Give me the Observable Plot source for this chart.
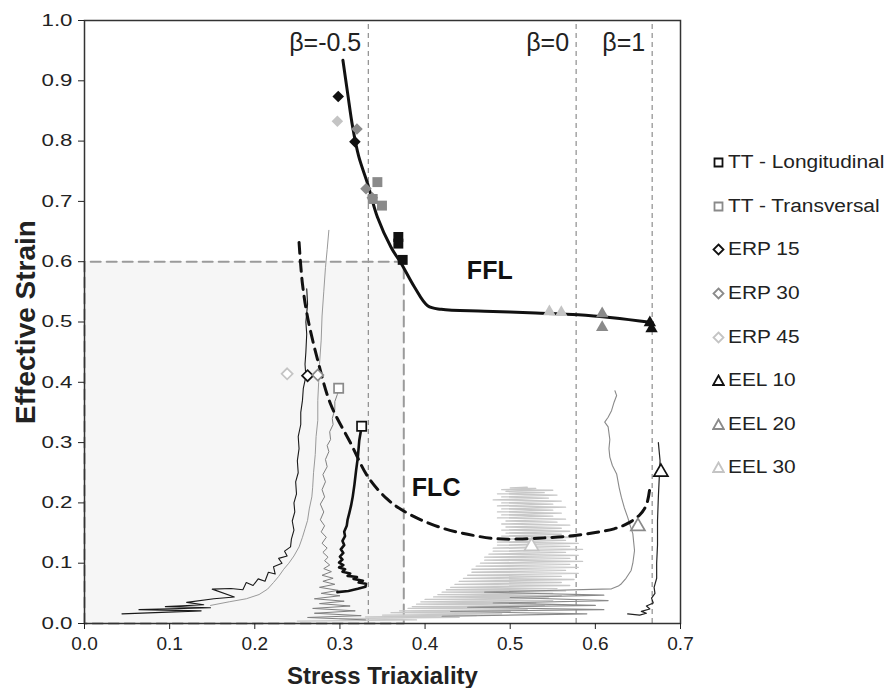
<!DOCTYPE html>
<html><head><meta charset="utf-8">
<script src="https://cdn.jsdelivr.net/npm/d3@7"></script>
<script src="https://cdn.jsdelivr.net/npm/@observablehq/plot@0.6"></script>
<style>
body{margin:0;background:#fff;}
#wrap{position:relative;width:893px;height:688px;font-family:"Liberation Sans",Arial,sans-serif;}
#chart{position:absolute;left:0;top:0;}
#legend{position:absolute;left:712px;top:141px;}
.item{display:flex;align-items:center;height:43.6px;font-size:18px;color:#222;white-space:nowrap;}
.item svg{margin-right:3px;}
.item span{display:inline-block;transform:scaleX(1.16);transform-origin:left center;}
</style></head><body><div id="wrap"><div id="chart"></div><div id="legend"></div></div>
<script>
// ---------- data ----------
const xTicks = [0, 0.1, 0.2, 0.3, 0.4, 0.5, 0.6, 0.7];
const yTicks = [0, 0.1, 0.2, 0.3, 0.4, 0.5, 0.6, 0.7, 0.8, 0.9, 1.0];
const xLabel = "Stress Triaxiality";
const yLabel = "Effective Strain";

const seriesNames = ["TT - Longitudinal", "TT - Transversal", "ERP 15", "ERP 30", "ERP 45", "EEL 10", "EEL 20", "EEL 30"];
const seriesSymbols = ["square", "square", "diamond2", "diamond2", "diamond2", "triangle", "triangle", "triangle"];
const seriesColors = ["#111111", "#8a8a8a", "#111111", "#8a8a8a", "#c4c4c4", "#111111", "#8a8a8a", "#c4c4c4"];

// fracture points (filled markers): [triaxiality, strain]
const fractureTTL = [[0.3686, 0.641], [0.3686, 0.630], [0.3737, 0.603]];
const fractureTTT = [[0.344, 0.732], [0.3494, 0.693], [0.3385, 0.704]];
const fractureERP15 = [[0.298, 0.874], [0.3176, 0.799]];
const fractureERP30 = [[0.32, 0.820], [0.3306, 0.721], [0.338, 0.706]];
const fractureERP45 = [[0.297, 0.833]];
const fractureEEL10 = [[0.664, 0.499], [0.666, 0.489]];
const fractureEEL20 = [[0.608, 0.514], [0.608, 0.491]];
const fractureEEL30 = [[0.546, 0.517], [0.56, 0.516]];

// necking points (open markers)
const neckingTri = [0.3255, 0.2985, 0.262, 0.274, 0.238, 0.677, 0.650, 0.525];
const neckingStrain = [0.327, 0.390, 0.411, 0.412, 0.414, 0.251, 0.161, 0.128];

// fracture forming limit (solid) and forming limit curve (dashed)
const ffl = [[0.3035, 0.934], [0.309, 0.88], [0.315, 0.823], [0.322, 0.775], [0.3326, 0.729], [0.344, 0.674], [0.36, 0.624], [0.372, 0.597], [0.3875, 0.558], [0.403, 0.527], [0.419, 0.521], [0.47, 0.518], [0.53, 0.515], [0.58, 0.512], [0.62, 0.507], [0.667, 0.499]];
const flc = [[0.252, 0.632], [0.256, 0.563], [0.262, 0.508], [0.274, 0.436], [0.289, 0.364], [0.313, 0.298], [0.333, 0.243], [0.355, 0.207], [0.372, 0.189], [0.395, 0.172], [0.423, 0.157], [0.45, 0.148], [0.48, 0.141], [0.51, 0.14], [0.54, 0.142], [0.57, 0.145], [0.6, 0.151], [0.622, 0.157], [0.638, 0.166], [0.652, 0.18], [0.66, 0.197], [0.664, 0.225]];

// strain paths
const pathERP15 = [[0.044, 0.016], [0.137, 0.021], [0.064, 0.023], [0.148, 0.026], [0.095, 0.028], [0.14, 0.031], [0.12, 0.035], [0.152, 0.041], [0.176, 0.044], [0.15, 0.057], [0.172, 0.058], [0.186, 0.056], [0.19, 0.068], [0.198, 0.063], [0.204, 0.074], [0.212, 0.07], [0.216, 0.085], [0.224, 0.082], [0.222, 0.094], [0.232, 0.1], [0.228, 0.108], [0.238, 0.112], [0.235, 0.12], [0.242, 0.127], [0.243, 0.14], [0.246, 0.155], [0.244, 0.17], [0.247, 0.185], [0.246, 0.2], [0.249, 0.215], [0.248, 0.235], [0.251, 0.25], [0.25, 0.27], [0.252, 0.29], [0.251, 0.31], [0.254, 0.33], [0.254, 0.35], [0.256, 0.37], [0.257, 0.39], [0.26, 0.41], [0.259, 0.43], [0.26, 0.45], [0.261, 0.48], [0.26, 0.5], [0.262, 0.53], [0.261, 0.555]];
const pathERP30 = [[0.148, 0.03], [0.17, 0.036], [0.19, 0.041], [0.205, 0.048], [0.215, 0.057], [0.222, 0.068], [0.228, 0.078], [0.234, 0.09], [0.24, 0.1], [0.246, 0.112], [0.252, 0.127], [0.256, 0.143], [0.259, 0.157], [0.262, 0.171], [0.264, 0.19], [0.267, 0.21], [0.268, 0.226], [0.269, 0.25], [0.271, 0.28], [0.272, 0.31], [0.274, 0.337], [0.274, 0.37], [0.275, 0.4], [0.276, 0.43], [0.278, 0.47], [0.279, 0.51], [0.281, 0.55], [0.283, 0.59], [0.285, 0.62], [0.287, 0.652]];
const pathTTT = [[0.33, 0.006], [0.262, 0.01], [0.325, 0.013], [0.27, 0.017], [0.318, 0.021], [0.268, 0.025], [0.312, 0.029], [0.276, 0.033], [0.305, 0.037], [0.27, 0.041], [0.3, 0.046], [0.278, 0.05], [0.298, 0.055], [0.276, 0.06], [0.294, 0.065], [0.28, 0.07], [0.292, 0.075], [0.279, 0.08], [0.29, 0.086], [0.281, 0.091], [0.288, 0.097], [0.282, 0.104], [0.286, 0.11], [0.28, 0.118], [0.285, 0.125], [0.279, 0.133], [0.284, 0.143], [0.278, 0.152], [0.282, 0.162], [0.277, 0.172], [0.281, 0.185], [0.277, 0.198], [0.282, 0.21], [0.279, 0.222], [0.283, 0.235], [0.28, 0.247], [0.285, 0.26], [0.283, 0.272], [0.287, 0.285], [0.285, 0.295], [0.289, 0.305], [0.288, 0.318], [0.292, 0.33], [0.291, 0.34], [0.294, 0.355], [0.294, 0.368], [0.297, 0.38], [0.2985, 0.39]];
const pathTTL = [[0.297, 0.052], [0.31, 0.054], [0.321, 0.0575], [0.33, 0.061], [0.3306, 0.066], [0.322, 0.068], [0.327, 0.071], [0.316, 0.074], [0.32, 0.077], [0.309, 0.079], [0.312, 0.083], [0.303, 0.086], [0.306, 0.09], [0.299, 0.093], [0.304, 0.097], [0.299, 0.101], [0.303, 0.106], [0.3, 0.111], [0.304, 0.117], [0.301, 0.123], [0.305, 0.13], [0.303, 0.137], [0.306, 0.145], [0.305, 0.152], [0.308, 0.162], [0.309, 0.172], [0.311, 0.183], [0.313, 0.195], [0.315, 0.21], [0.317, 0.23], [0.319, 0.254], [0.321, 0.275], [0.3227, 0.3035], [0.3255, 0.327]];
const pathEEL30 = [[0.25, 0.004], [0.39, 0.006], [0.30, 0.008], [0.44, 0.01], [0.33, 0.011], [0.46, 0.013], [0.35, 0.014], [0.49, 0.016], [0.36, 0.018], [0.50, 0.02], [0.37, 0.021], [0.52, 0.023], [0.38, 0.025], [0.51, 0.027], [0.385, 0.028], [0.54, 0.03], [0.39, 0.032], [0.53, 0.034], [0.395, 0.036], [0.55, 0.038], [0.40, 0.04], [0.545, 0.042], [0.41, 0.044], [0.56, 0.046], [0.415, 0.048], [0.55, 0.05], [0.42, 0.052], [0.565, 0.054], [0.425, 0.056], [0.555, 0.058], [0.43, 0.06], [0.57, 0.063], [0.435, 0.065], [0.56, 0.068], [0.44, 0.07], [0.575, 0.073], [0.445, 0.075], [0.56, 0.078], [0.45, 0.08], [0.58, 0.083], [0.455, 0.085], [0.565, 0.088], [0.455, 0.09], [0.58, 0.093], [0.46, 0.095], [0.57, 0.098], [0.465, 0.1], [0.585, 0.103], [0.47, 0.105], [0.57, 0.108], [0.47, 0.11], [0.58, 0.113], [0.475, 0.115], [0.565, 0.118], [0.48, 0.12], [0.585, 0.123], [0.48, 0.125], [0.57, 0.128], [0.485, 0.13], [0.58, 0.133], [0.485, 0.135], [0.565, 0.138], [0.49, 0.14], [0.575, 0.143], [0.49, 0.145], [0.56, 0.148], [0.495, 0.15], [0.57, 0.153], [0.49, 0.155], [0.56, 0.158], [0.495, 0.16], [0.57, 0.163], [0.49, 0.165], [0.555, 0.168], [0.495, 0.17], [0.565, 0.173], [0.485, 0.175], [0.55, 0.178], [0.49, 0.18], [0.56, 0.183], [0.485, 0.185], [0.55, 0.188], [0.49, 0.19], [0.565, 0.193], [0.485, 0.195], [0.55, 0.198], [0.49, 0.2], [0.56, 0.203], [0.48, 0.205], [0.545, 0.208], [0.49, 0.21], [0.555, 0.213], [0.485, 0.215], [0.54, 0.217], [0.495, 0.219], [0.55, 0.221], [0.49, 0.222], [0.53, 0.224], [0.5, 0.225], [0.52, 0.226]];
const pathEEL20 = [[0.42, 0.012], [0.59, 0.016], [0.43, 0.02], [0.61, 0.023], [0.45, 0.027], [0.6, 0.03], [0.48, 0.034], [0.615, 0.038], [0.5, 0.043], [0.61, 0.047], [0.47, 0.052], [0.619, 0.0575], [0.627, 0.062], [0.6306, 0.066], [0.636, 0.075], [0.642, 0.088], [0.644, 0.1], [0.646, 0.121], [0.645, 0.135], [0.644, 0.149], [0.641, 0.162], [0.638, 0.176], [0.634, 0.192], [0.6306, 0.209], [0.628, 0.225], [0.625, 0.248], [0.62, 0.262], [0.617, 0.276], [0.616, 0.29], [0.617, 0.305], [0.615, 0.326], [0.611, 0.334], [0.615, 0.342], [0.619, 0.353], [0.622, 0.367], [0.625, 0.378], [0.623, 0.386]];
const pathEEL10 = [[0.638, 0.016], [0.652, 0.014], [0.66, 0.017], [0.654, 0.02], [0.664, 0.024], [0.66, 0.029], [0.668, 0.034], [0.666, 0.042], [0.67, 0.05], [0.669, 0.06], [0.672, 0.075], [0.672, 0.1], [0.673, 0.13], [0.673, 0.17], [0.674, 0.21], [0.675, 0.24], [0.676, 0.27], [0.674, 0.3]];

// reference lines and shaded region
const betaX = [0.3333, 0.5774, 0.6667];
const betaLabels = ["β=-0.5", "β=0", "β=1"];
const shadeX = [0, 0.375];
const shadeY = [0, 0.6];
const curveLabels = ["FFL", "FLC"];
const curveLabelX = [0.476, 0.413];
const curveLabelY = [0.585, 0.224];

// ---------- chart ----------
const fractureSets = [fractureTTL, fractureTTT, fractureERP15, fractureERP30, fractureERP45, fractureEEL10, fractureEEL20, fractureEEL30];
const fillR = {square: 5.6, diamond2: 5.2, triangle: 4.6};
const openR = {square: 5.2, diamond2: 5, triangle: 5.2};
const X = d => d[0], Y = d => d[1];

const shadeBorder = [[shadeX[0], shadeY[0]], [shadeX[0], shadeY[1]], [shadeX[1], shadeY[1]], [shadeX[1], shadeY[0]], [shadeX[0], shadeY[0]]];

const marks = [
  Plot.rect([0], {x1: shadeX[0], x2: shadeX[1], y1: shadeY[0], y2: shadeY[1], fill: "#f6f6f6"}),
  Plot.ruleX(betaX, {x: d => d, y1: 0, y2: 1, stroke: "#777", strokeWidth: 1, strokeDasharray: "5,4"}),
  Plot.line(shadeBorder, {x: X, y: Y, stroke: "#9a9a9a", strokeWidth: 2, strokeDasharray: "10,6"}),
  Plot.line(pathEEL30, {x: X, y: Y, stroke: "#c8c8c8", strokeWidth: 1.3}),
  Plot.line(pathEEL20, {x: X, y: Y, stroke: "#8a8a8a", strokeWidth: 1.1}),
  Plot.line(pathEEL10, {x: X, y: Y, stroke: "#222", strokeWidth: 1.2}),
  Plot.line(pathERP30, {x: X, y: Y, stroke: "#9a9a9a", strokeWidth: 1}),
  Plot.line(pathTTT, {x: X, y: Y, stroke: "#808080", strokeWidth: 1}),
  Plot.line(pathERP15, {x: X, y: Y, stroke: "#1a1a1a", strokeWidth: 1.1}),
  Plot.line(pathTTL, {x: X, y: Y, stroke: "#111", strokeWidth: 2.6}),
  Plot.line(ffl, {x: X, y: Y, curve: "catmull-rom", stroke: "#111", strokeWidth: 3}),
  Plot.line(flc, {x: X, y: Y, curve: "catmull-rom", stroke: "#111", strokeWidth: 3, strokeDasharray: "11,7"})
];
seriesNames.forEach((name, i) => {
  const sym = seriesSymbols[i];
  marks.push(Plot.dot(fractureSets[i], {x: X, y: Y, symbol: sym, r: fillR[sym], fill: seriesColors[i], stroke: "none"}));
});
seriesNames.forEach((name, i) => {
  const sym = seriesSymbols[i];
  marks.push(Plot.dot([i], {x: j => neckingTri[j], y: j => neckingStrain[j], symbol: sym, r: openR[sym], fill: "white", stroke: seriesColors[i], strokeWidth: 1.7}));
});
marks.push(
  Plot.text(betaLabels, {x: (d, i) => betaX[i], y: 0.9635, text: d => d, textAnchor: "end", dx: -7, fontSize: 25, fill: "#222"}),
  Plot.text(curveLabels, {x: (d, i) => curveLabelX[i], y: (d, i) => curveLabelY[i], text: d => d, fontSize: 25, fontWeight: "bold", fill: "#111"}),
  Plot.frame({stroke: "#333", strokeWidth: 1.5}),
  Plot.axisX({ticks: xTicks, tickFormat: d3.format(".1f"), tickSize: 6, tickPadding: 7, fontSize: 19, label: null}),
  Plot.axisY({ticks: yTicks, tickFormat: d3.format(".1f"), tickSize: 6, tickPadding: 6, fontSize: 16.5, label: null}),
  Plot.text([xLabel], {frameAnchor: "bottom", lineAnchor: "middle", textAnchor: "middle", dy: 53, text: d => d, fontSize: 24, fontWeight: "bold", fill: "#222"}),
  Plot.text([yLabel], {frameAnchor: "left", lineAnchor: "middle", textAnchor: "middle", dx: -58, rotate: -90, text: d => d, fontSize: 28, fontWeight: "bold", fill: "#222", ariaLabel: "y label"})
);

const chart = Plot.plot({
  width: 893, height: 688,
  marginLeft: 84, marginRight: 213, marginTop: 20, marginBottom: 65,
  x: {domain: [0, 0.7]},
  y: {domain: [0, 1]},
  style: {fontFamily: "'Liberation Sans', Arial, sans-serif", color: "#222", background: "white"},
  marks
});
document.getElementById("chart").appendChild(chart);

// the reference's y-axis texts are drawn wider than they are tall
function stretch(selector, sx) {
  chart.querySelectorAll(selector).forEach(t => {
    const tr = t.getAttribute("transform");
    if (tr) t.setAttribute("transform", `${tr} scale(${sx},1)`);
  });
}
stretch('g[aria-label="y-axis tick label"] text', 1.35);
stretch('g[aria-label="y label"] text', 1.29);

// centre the rotated y label on the plot frame (x ≈ 24, y ≈ 322)
const yl = chart.querySelector('g[aria-label="y label"] text');
if (yl) {
  yl.setAttribute("text-anchor", "middle");
  const sb = chart.getBoundingClientRect();
  const b = yl.getBoundingClientRect();
  const cx = b.left + b.width / 2 - sb.left;
  const cy = b.top + b.height / 2 - sb.top;
  const tr = yl.getAttribute("transform") || "";
  yl.setAttribute("transform", `translate(${(24 - cx).toFixed(2)},${(322 - cy).toFixed(2)}) ${tr}`);
}

// ---------- legend ----------
const legend = document.getElementById("legend");
const shapePath = {
  square: "M2.5,2.5H10.5V10.5H2.5Z",
  diamond2: "M6.5,1.5L11.5,6.5L6.5,11.5L1.5,6.5Z",
  triangle: "M6.5,1.5L11.8,11H1.2Z"
};
seriesNames.forEach((name, i) => {
  const div = document.createElement("div");
  div.className = "item";
  div.innerHTML = `<svg width="13" height="13" viewBox="0 0 13 13"><path d="${shapePath[seriesSymbols[i]]}" fill="white" stroke="${seriesColors[i]}" stroke-width="1.8"/></svg><span>${name}</span>`;
  legend.appendChild(div);
});
</script></body></html>
